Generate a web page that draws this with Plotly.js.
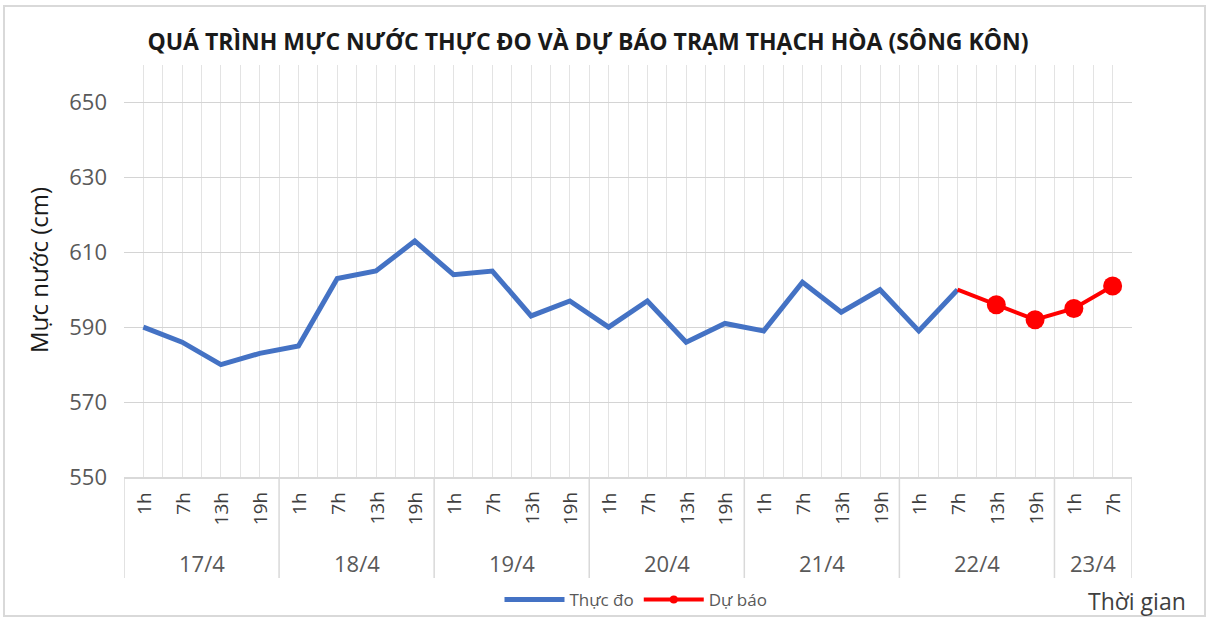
<!DOCTYPE html>
<html>
<head>
<meta charset="utf-8">
<script src="https://cdn.plot.ly/plotly-3.0.1.min.js"></script>
<style>
  html, body { margin: 0; padding: 0; background: #ffffff; }
  #chart { width: 1207px; height: 619px; }
</style>
</head>
<body>
<div id="chart"></div>
<script>
// ---- data ----
const dayLabels = ['17/4', '18/4', '19/4', '20/4', '21/4', '22/4', '23/4'];
const daySpans = [4, 4, 4, 4, 4, 4, 2];
const hourLabels = ['1h', '7h', '13h', '19h',
                    '1h', '7h', '13h', '19h',
                    '1h', '7h', '13h', '19h',
                    '1h', '7h', '13h', '19h',
                    '1h', '7h', '13h', '19h',
                    '1h', '7h', '13h', '19h',
                    '1h', '7h'];
const measured = [590, 586, 580, 583,
                  585, 603, 605, 613,
                  604, 605, 593, 597,
                  590, 597, 586, 591,
                  589, 602, 594, 600,
                  589, 600];
const forecast = [null, null, null, null,
                  null, null, null, null,
                  null, null, null, null,
                  null, null, null, null,
                  null, null, null, null,
                  null, 600, 596, 592,
                  595, 601];
const seriesNames = ['Thực đo', 'Dự báo'];
const yTicks = [550, 570, 590, 610, 630, 650];
const chartTitle = 'QUÁ TRÌNH MỰC NƯỚC THỰC ĐO VÀ DỰ BÁO TRẠM THẠCH HÒA (SÔNG KÔN)';
const yTitle = 'Mực nước (cm)';
const xTitle = 'Thời gian';

// ---- layout geometry ----
const W = 1207, H = 619;
const M = { l: 124, r: 75, t: 65, b: 142, autoexpand: false };
const PW = W - M.l - M.r, PH = H - M.t - M.b;
const px2x = p => (p - M.l) / PW;           // pixel -> paper x
const py2y = p => (H - M.b - p) / PH;       // pixel -> paper y

const FONT = '"Open Sans", "Liberation Sans", sans-serif';
const idx = hourLabels.map((_, i) => i);
const markerSizes = forecast.map((v, i) => (i > 0 && forecast[i - 1] !== null) ? 19 : 0);

const traces = [
  {
    x: idx, y: measured, name: seriesNames[0], type: 'scatter', mode: 'lines',
    line: { color: '#4472C4', width: 5 }, showlegend: true, hoverinfo: 'x+y'
  },
  {
    x: idx, y: forecast, name: seriesNames[1], type: 'scatter', mode: 'lines+markers',
    line: { color: '#FF0000', width: 4 },
    marker: { color: '#FF0000', size: markerSizes, opacity: 1, line: { width: 0 } },
    showlegend: false
  },
  {
    x: [null], y: [null], name: seriesNames[1], type: 'scatter', mode: 'lines+markers',
    line: { color: '#FF0000', width: 4 }, marker: { color: '#FF0000', size: 8 },
    showlegend: true
  }
];

const annotations = [];
const shapes = [];

// hour labels
hourLabels.forEach((h, i) => {
  annotations.push({
    x: i, xref: 'x', y: py2y(490), yref: 'paper',
    text: h, showarrow: false, textangle: -90,
    xanchor: 'center', yanchor: 'top',
    font: { family: FONT, size: 19, color: '#404040' }
  });
});

// day labels and group dividers
let start = 0;
shapes.push({ type: 'line', xref: 'x', yref: 'paper', x0: -0.5, x1: -0.5, y0: 0, y1: py2y(578),
              line: { color: '#d9d9d9', width: 1.5 } });
dayLabels.forEach((d, k) => {
  const end = start + daySpans[k];
  annotations.push({
    x: (start + end - 1) / 2, xref: 'x', y: py2y(563), yref: 'paper',
    text: d, showarrow: false, xanchor: 'center', yanchor: 'middle',
    font: { family: FONT, size: 22, color: '#595959' }
  });
  shapes.push({ type: 'line', xref: 'x', yref: 'paper', x0: end - 0.5, x1: end - 0.5,
                y0: 0, y1: py2y(578), line: { color: '#d9d9d9', width: 1.5 } });
  start = end;
});

// y axis title
annotations.push({
  x: px2x(38), xref: 'paper', y: py2y(270), yref: 'paper',
  text: yTitle, showarrow: false, textangle: -90,
  xanchor: 'center', yanchor: 'middle',
  font: { family: FONT, size: 24, color: '#1a1a1a' }
});
// x axis title (bottom right)
annotations.push({
  x: px2x(1188), xref: 'paper', y: py2y(601), yref: 'paper',
  text: xTitle, showarrow: false, xanchor: 'right', yanchor: 'middle',
  font: { family: FONT, size: 23, color: '#404040' }
});

// outer frame
shapes.push({ type: 'rect', xref: 'paper', yref: 'paper', layer: 'below',
  x0: px2x(4), x1: px2x(1205), y0: py2y(616), y1: py2y(6),
  line: { color: '#d9d9d9', width: 2 }, fillcolor: 'rgba(0,0,0,0)' });

const layout = {
  width: W, height: H,
  margin: M,
  paper_bgcolor: '#ffffff', plot_bgcolor: '#ffffff',
  title: {
    text: '<b>' + chartTitle + '</b>',
    x: 588 / W, xref: 'container', xanchor: 'center',
    y: 1 - 42 / H, yref: 'container', yanchor: 'middle',
    font: { family: FONT, size: 23, color: '#1a1a1a' }
  },
  xaxis: {
    range: [-0.5, hourLabels.length - 0.5],
    tick0: -0.5, dtick: 0.5,
    showticklabels: false, ticks: '',
    showgrid: true, gridcolor: '#e3e3e3', gridwidth: 1,
    zeroline: false,
    showline: true, linecolor: '#d9d9d9', linewidth: 2,
    fixedrange: true
  },
  yaxis: {
    range: [550, 660],
    tickvals: yTicks, ticktext: yTicks.map(String),
    ticks: '', ticklabelstandoff: 16,
    tickfont: { family: FONT, size: 22, color: '#595959' },
    showgrid: true, gridcolor: '#d4d4d4', gridwidth: 1,
    zeroline: false, showline: false, fixedrange: true
  },
  legend: {
    orientation: 'h', x: px2x(636), xanchor: 'center', y: py2y(600), yanchor: 'middle',
    font: { family: FONT, size: 17, color: '#595959' },
    bgcolor: 'rgba(0,0,0,0)', itemwidth: 60, tracegroupgap: 0
  },
  annotations: annotations,
  shapes: shapes,
  showlegend: true
};

Plotly.newPlot('chart', traces, layout, { displayModeBar: false, staticPlot: true });
</script>
</body>
</html>
